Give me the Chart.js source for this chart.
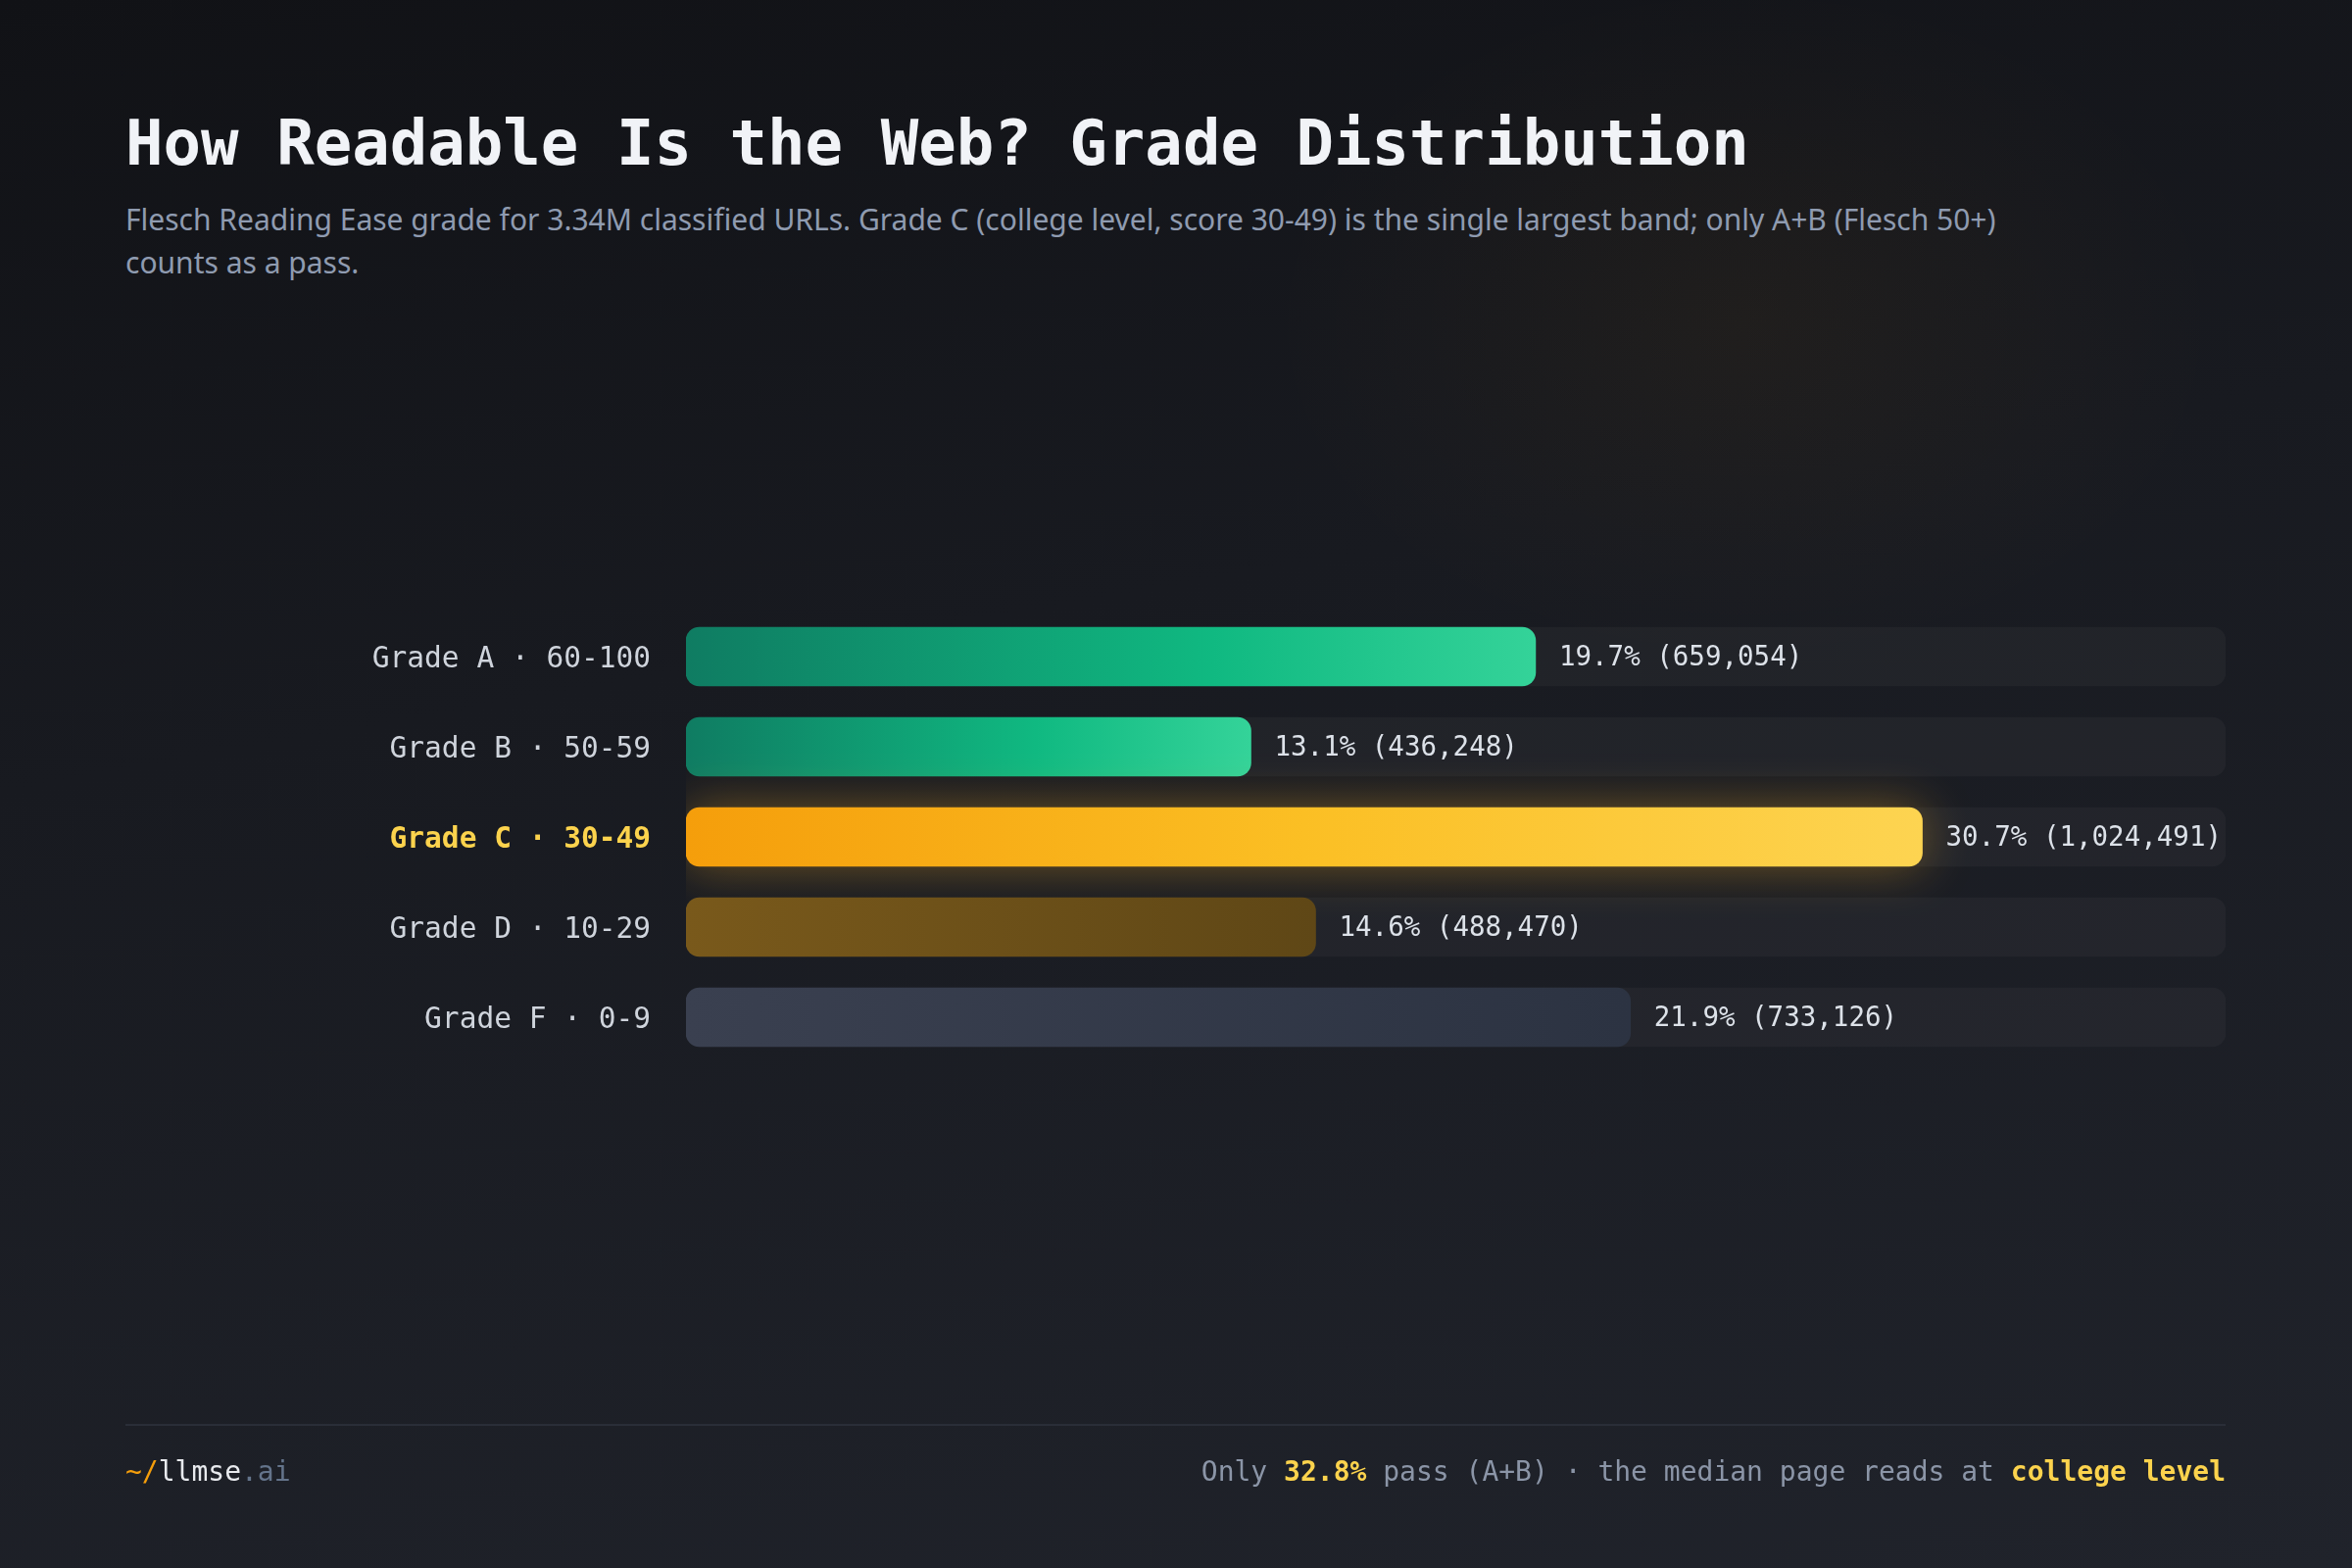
<!DOCTYPE html>
<html lang="en">
<head>
  <meta charset="UTF-8">
  <title>How Readable Is the Web? Grade Distribution</title>
  <script src="https://cdn.jsdelivr.net/npm/chart.js"></script>
  <style>
    html, body { margin: 0; padding: 0; }
    body {
      width: 2400px; height: 1600px; overflow: hidden; position: relative;
      background:
        radial-gradient(ellipse 700px 500px at 1780px 330px, rgba(245,158,11,0.045), rgba(245,158,11,0) 70%),
        linear-gradient(170deg, #111216 0%, #181a20 40%, #20232b 100%);
      font-family: 'DejaVu Sans Mono', monospace;
    }
    canvas { position: absolute; left: 0; top: 0; }
    .title { position: absolute; left: 128px; top: 114px; font-size: 64px; line-height: 64px; font-weight: bold; color: #f1f3f7; white-space: nowrap; }
    .sub { position: absolute; left: 128px; top: 202px; font-family: 'Noto Sans', sans-serif; font-size: 30px; line-height: 44px; color: #8f9bb0; white-space: nowrap; }
    .rule { position: absolute; left: 128px; width: 2143px; top: 1453px; height: 2px; background: #2a2e38; }
    .foot { position: absolute; top: 1488px; font-size: 28px; line-height: 28px; white-space: nowrap; }
    .left { left: 128px; color: #e8eaee; }
    .right { right: 129px; color: #8b95a7; }
    .amber { color: #f59e0b; }
    .dim { color: #64748b; }
    .hl { color: #fcd34d; font-weight: bold; }
  </style>
</head>
<body>
<div class="title">How Readable Is the Web? Grade Distribution</div>
<div class="sub">Flesch Reading Ease grade for 3.34M classified URLs. Grade C (college level, score 30-49) is the single largest band; only A+B (Flesch 50+)<br>counts as a pass.</div>
<canvas id="grafica" width="2400" height="1600"></canvas>
<div class="rule"></div>
<div class="foot left"><span class="amber">~/</span>llmse<span class="dim">.ai</span></div>
<div class="foot right">Only <span class="hl">32.8%</span> pass (A+B) · the median page reads at <span class="hl">college level</span></div>

<script>
const grados = ['Grade A · 60-100', 'Grade B · 50-59', 'Grade C · 30-49', 'Grade D · 10-29', 'Grade F · 0-9'];
const porcentajes = [19.7, 13.1, 30.7, 14.6, 21.9];
const conteos = [659054, 436248, 1024491, 488470, 733126];
const destacado = 2;   // Grade C
const ejeMax = 35.7;

const mono = "'DejaVu Sans Mono', monospace";
const fuenteValor = "27.5px " + mono;

// colour stops for each bar, left to right
const paradas = [
  [[0, '#0f7c62'], [0.62, '#10b981'], [1, '#34d399']],
  [[0, '#0f7c62'], [0.62, '#10b981'], [1, '#34d399']],
  [[0, '#f59e0b'], [0.5, '#fbbf24'], [1, '#fdd451']],
  [[0, '#79591b'], [1, '#5f4716']],
  [[0, '#3a4050'], [1, '#2c3342']]
];

function textoValor(i) {
  return porcentajes[i].toFixed(1) + '% (' + conteos[i].toLocaleString('en-US') + ')';
}

const barrasPlugin = {
  id: 'barras',
  afterDatasetsUpdate(chart) {
    const ctx = chart.ctx, area = chart.chartArea;
    const meta = chart.getDatasetMeta(0);
    ctx.save();
    ctx.font = fuenteValor;
    meta.data.forEach((el, i) => {
      // keep room for the value label inside the track
      const tope = area.right - ctx.measureText(textoValor(i)).width - 28;
      if (el.x > tope) el.x = tope;
      const g = ctx.createLinearGradient(el.base, 0, el.x, 0);
      paradas[i].forEach(p => g.addColorStop(p[0], p[1]));
      el.options.backgroundColor = g;
      if (i === destacado && !el._brillo) {
        const dibujar = el.draw;
        el.draw = function (c, a) {
          c.save();
          c.shadowColor = 'rgba(251,176,36,0.38)';
          c.shadowBlur = 50;
          dibujar.call(this, c, a);
          c.restore();
        };
        el._brillo = true;
      }
    });
    ctx.restore();
  },
  afterDatasetsDraw(chart) {
    const ctx = chart.ctx;
    const meta = chart.getDatasetMeta(0);
    ctx.save();
    ctx.font = fuenteValor;
    ctx.fillStyle = '#dde2e9';
    ctx.textBaseline = 'middle';
    ctx.textAlign = 'left';
    meta.data.forEach((el, i) => {
      ctx.fillText(textoValor(i), el.x + 24, el.y + 2);
    });
    ctx.restore();
  }
};

new Chart(document.getElementById('grafica').getContext('2d'), {
  type: 'bar',
  data: {
    labels: grados,
    datasets: [
      {
        data: porcentajes,
        order: 0,
        grouped: false,
        barThickness: 60,
        borderRadius: 14,
        borderSkipped: false,
        backgroundColor: c => paradas[c.dataIndex][0][1]
      },
      {
        data: grados.map(() => ejeMax),
        order: 1,
        grouped: false,
        barThickness: 60,
        borderRadius: 14,
        borderSkipped: false,
        backgroundColor: 'rgba(255,255,255,0.035)'
      }
    ]
  },
  options: {
    indexAxis: 'y',
    responsive: false,
    animation: false,
    layout: { padding: { top: 624, bottom: 516, right: 129, left: 0 } },
    plugins: { legend: { display: false }, tooltip: { enabled: false } },
    scales: {
      x: { min: 0, max: ejeMax, display: false },
      y: {
        grid: { display: false, drawTicks: false },
        border: { display: false },
        afterFit: s => { s.width = 700; },
        ticks: {
          padding: 36,
          labelOffset: 3,
          color: c => c.index === destacado ? '#fcd34d' : '#cfd4dc',
          font: c => ({ family: mono, size: 29.5, weight: c.index === destacado ? 'bold' : 'normal' })
        }
      }
    }
  },
  plugins: [barrasPlugin]
});
</script>
</body>
</html>
